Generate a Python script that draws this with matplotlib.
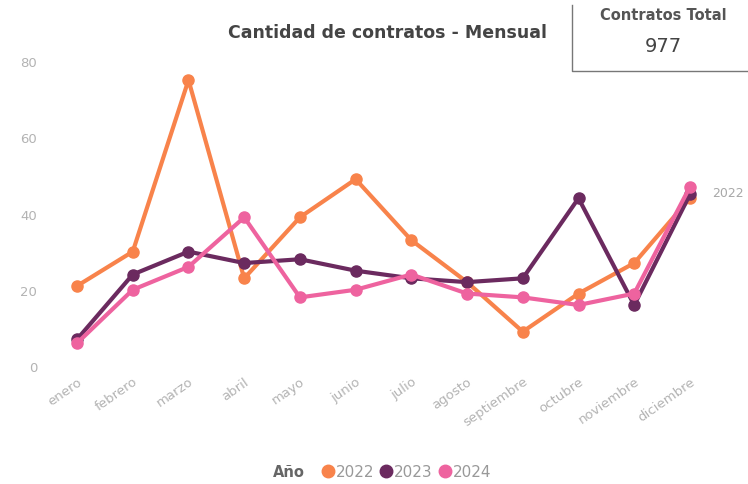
import matplotlib.pyplot as plt
from matplotlib.lines import Line2D

meses = ['enero', 'febrero', 'marzo', 'abril', 'mayo', 'junio', 'julio',
         'agosto', 'septiembre', 'octubre', 'noviembre', 'diciembre']
v2022 = [21, 30, 75, 23, 39, 49, 33, 22, 9, 19, 27, 44]
v2023 = [7, 24, 30, 27, 28, 25, 23, 22, 23, 44, 16, 45]
v2024 = [6, 20, 26, 39, 18, 20, 24, 19, 18, 16, 19, 47]
anios = ['2022', '2023', '2024']
colores = ['#F8834B', '#6B2A5F', '#EE639F']
y_ticks = [0, 20, 40, 60, 80]
total = sum(v2022) + sum(v2023) + sum(v2024)

W, H = 748, 485
fig = plt.figure(figsize=(W / 100, H / 100), dpi=100)
ax = fig.add_axes([62 / W, 118 / H, (710 - 62) / W, 305 / H])

x = list(range(len(meses)))
for vals, c in zip([v2022, v2023, v2024], colores):
    ax.plot(x, vals, color=c, lw=3, marker='o', ms=8, clip_on=False, zorder=3)

ax.set_xlim(-0.27, 11.36)
ax.set_ylim(0, 80)
ax.set_yticks(y_ticks)
ax.set_xticks(x)
ax.set_xticklabels(meses, rotation=35, ha='right', va='top',
                   rotation_mode='anchor')
ax.tick_params(axis='both', length=0, colors='#B3B3B3', labelsize=9.5)
ax.tick_params(axis='y', pad=18)
ax.tick_params(axis='x', pad=6)
for s in ax.spines.values():
    s.set_visible(False)

# etiqueta serie a la derecha
ax.annotate('2022', xy=(11, v2022[-1]), xytext=(16, 4), textcoords='offset points',
            color='#A8A8A8', fontsize=9, va='center', annotation_clip=False)

fig.text(388 / W, 1 - 33 / H, 'Cantidad de contratos - Mensual', ha='center',
         va='center', fontsize=12.5, fontweight='bold', color='#444444')

# tarjeta total (solo borde izquierdo e inferior visibles)
fig.add_artist(Line2D([572 / W, 572 / W, 1], [1 - 6 / H, 1 - 72 / H, 1 - 72 / H],
                      transform=fig.transFigure, color='#777777', lw=1))
fig.text(663 / W, 1 - 16 / H, 'Contratos Total', ha='center', va='center',
         fontsize=10.5, fontweight='bold', color='#555555')
fig.text(663 / W, 1 - 47 / H, str(total), ha='center', va='center',
         fontsize=14, color='#444444')

# leyenda
fig.text(273 / W, 1 - 473 / H, 'Año', ha='left', va='center',
         fontsize=10.5, fontweight='bold', color='#666666')
handles = [Line2D([], [], ls='', marker='o', ms=9, color=c) for c in colores]
fig.legend(handles, anios, loc='center left', bbox_to_anchor=(305 / W, 1 - 473 / H),
           ncol=3, frameon=False, handletextpad=-0.1, columnspacing=0.2,
           handlelength=1.2, fontsize=11, labelcolor='#999999')

fig.savefig('out.png', dpi=100)
